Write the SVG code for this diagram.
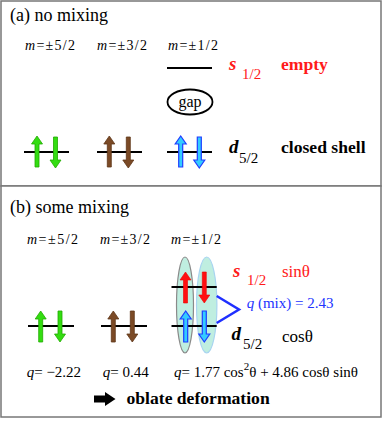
<svg xmlns="http://www.w3.org/2000/svg" width="382" height="429" viewBox="0 0 382 429" font-family="Liberation Serif">
<defs>
<path id="up" d="M-2,31 V8 H-5.5 L0,0 L5.5,8 H2 V31 Z"/>
<use id="upG" href="#up" fill="#33dd11" stroke="#22aa00" stroke-width="0.8"/>
<use id="upB" href="#up" fill="#7b4a26" stroke="#5e3618" stroke-width="0.8"/>
<use id="upC" href="#up" fill="#33ccff" stroke="#1f3dff" stroke-width="1.2"/>
<use id="upR" href="#up" fill="#ff1111" stroke="#ee0000" stroke-width="0.6"/>
</defs>
<rect width="382" height="429" fill="#fff"/>
<g id="panel-a">
<rect x="1" y="1" width="380" height="185" fill="#fff" stroke="#777" stroke-width="1.5"/>
<text x="10" y="21" font-size="18">(a) no mixing</text>
<text x="25" y="50" font-size="14" textLength="50"><tspan font-style="italic">m</tspan>=±5/2</text>
<text x="97" y="50" font-size="14" textLength="50"><tspan font-style="italic">m</tspan>=±3/2</text>
<text x="168" y="50" font-size="14" textLength="50"><tspan font-style="italic">m</tspan>=±1/2</text>
</g>
<g id="s-level-a">
<line x1="167" y1="68" x2="212" y2="68" stroke="#000" stroke-width="1.8"/>
<text fill="#ff1a1a" font-weight="bold" font-style="italic" x="229" y="70" font-size="19">s</text>
<text fill="#ff1a1a" x="242" y="79" font-size="15">1/2</text>
<text fill="#ff1a1a" font-weight="bold" x="281" y="70" font-size="17.6">empty</text>
</g>
<g id="gap">
<ellipse cx="190" cy="102" rx="22.5" ry="12.5" fill="none" stroke="#000" stroke-width="1.8"/>
<text x="190" y="107" font-size="16" text-anchor="middle">gap</text>
</g>
<g id="d-level-a">
<g stroke="#000" stroke-width="1.8">
<line x1="24" y1="152" x2="69" y2="152"/>
<line x1="97" y1="152" x2="142" y2="152"/>
<line x1="167" y1="152" x2="212" y2="152"/>
</g>
<use href="#upG" transform="translate(37,136)"/>
<use href="#upG" transform="translate(55.5,168) rotate(180)"/>
<use href="#upB" transform="translate(109.3,136)"/>
<use href="#upB" transform="translate(128.3,168) rotate(180)"/>
<use href="#upC" transform="translate(180.7,136)"/>
<use href="#upC" transform="translate(199.3,168) rotate(180)"/>
<text font-weight="bold" font-style="italic" x="229" y="153" font-size="19">d</text>
<text x="239" y="163" font-size="15">5/2</text>
<text font-weight="bold" x="281" y="153" font-size="17.6">closed shell</text>
</g>
<g id="panel-b">
<rect x="1" y="186" width="380" height="231" fill="#fff" stroke="#777" stroke-width="1.5"/>
<text x="10" y="213" font-size="18">(b) some mixing</text>
<text x="27" y="244" font-size="14" textLength="51"><tspan font-style="italic">m</tspan>=±5/2</text>
<text x="100" y="244" font-size="14" textLength="50"><tspan font-style="italic">m</tspan>=±3/2</text>
<text x="171" y="244" font-size="14" textLength="50"><tspan font-style="italic">m</tspan>=±1/2</text>
</g>
<g id="mix-orbitals">
<ellipse cx="185" cy="305" rx="8.5" ry="48" fill="#bfeee0" stroke="#8a8a8a" stroke-width="1.2"/>
<ellipse cx="206.7" cy="305" rx="10.2" ry="48" fill="#bfeee0" stroke="#a8d4f0" stroke-width="1.2"/>
</g>
<g id="levels-b">
<g stroke="#000" stroke-width="1.8">
<line x1="171.5" y1="287" x2="216.7" y2="287"/>
<line x1="28" y1="326" x2="74" y2="326"/>
<line x1="101" y1="326" x2="147" y2="326"/>
<line x1="171.5" y1="326" x2="216.7" y2="326"/>
</g>
<use href="#upG" transform="translate(40.7,311)"/>
<use href="#upG" transform="translate(60,342) rotate(180)"/>
<use href="#upB" transform="translate(113.3,311)"/>
<use href="#upB" transform="translate(132.3,342) rotate(180)"/>
<use href="#upR" transform="translate(185.5,272)"/>
<use href="#upR" transform="translate(204.3,303) rotate(180)"/>
<use href="#upC" transform="translate(185.7,311)"/>
<use href="#upC" transform="translate(204.3,342) rotate(180)"/>
</g>
<g id="labels-b">
<text fill="#ff1a1a" font-weight="bold" font-style="italic" x="233" y="277" font-size="19">s</text>
<text fill="#ff1a1a" x="247" y="285" font-size="15">1/2</text>
<text fill="#ff1a1a" x="282" y="277" font-size="17">sinθ</text>
<text font-weight="bold" font-style="italic" x="231.5" y="340" font-size="19">d</text>
<text x="243" y="349" font-size="15">5/2</text>
<text x="282" y="341.5" font-size="17">cosθ</text>
</g>
<g id="connectors">
<polyline points="216.7,296 239,309.5 216.7,323" fill="none" stroke="#1f2fff" stroke-width="2.5"/>
<text fill="#2233ff" x="246.7" y="308" font-size="15"><tspan font-style="italic">q</tspan> (mix) = 2.43</text>
</g>
<g id="q-values">
<text x="26.7" y="377" font-size="15"><tspan font-style="italic">q</tspan>= −2.22</text>
<text x="102.7" y="377" font-size="15"><tspan font-style="italic">q</tspan>= 0.44</text>
<text x="174" y="377" font-size="15"><tspan font-style="italic">q</tspan>= 1.77 cos<tspan font-size="11" dy="-7">2</tspan><tspan dy="7">θ + 4.86 cosθ sinθ</tspan></text>
</g>
<g id="oblate">
<path d="M94,395.5 H105 V392 L115.5,399 L105,406 V402.5 H94 Z" fill="#000"/>
<text font-weight="bold" x="126.5" y="404" font-size="17.6">oblate deformation</text>
</g>
</svg>
